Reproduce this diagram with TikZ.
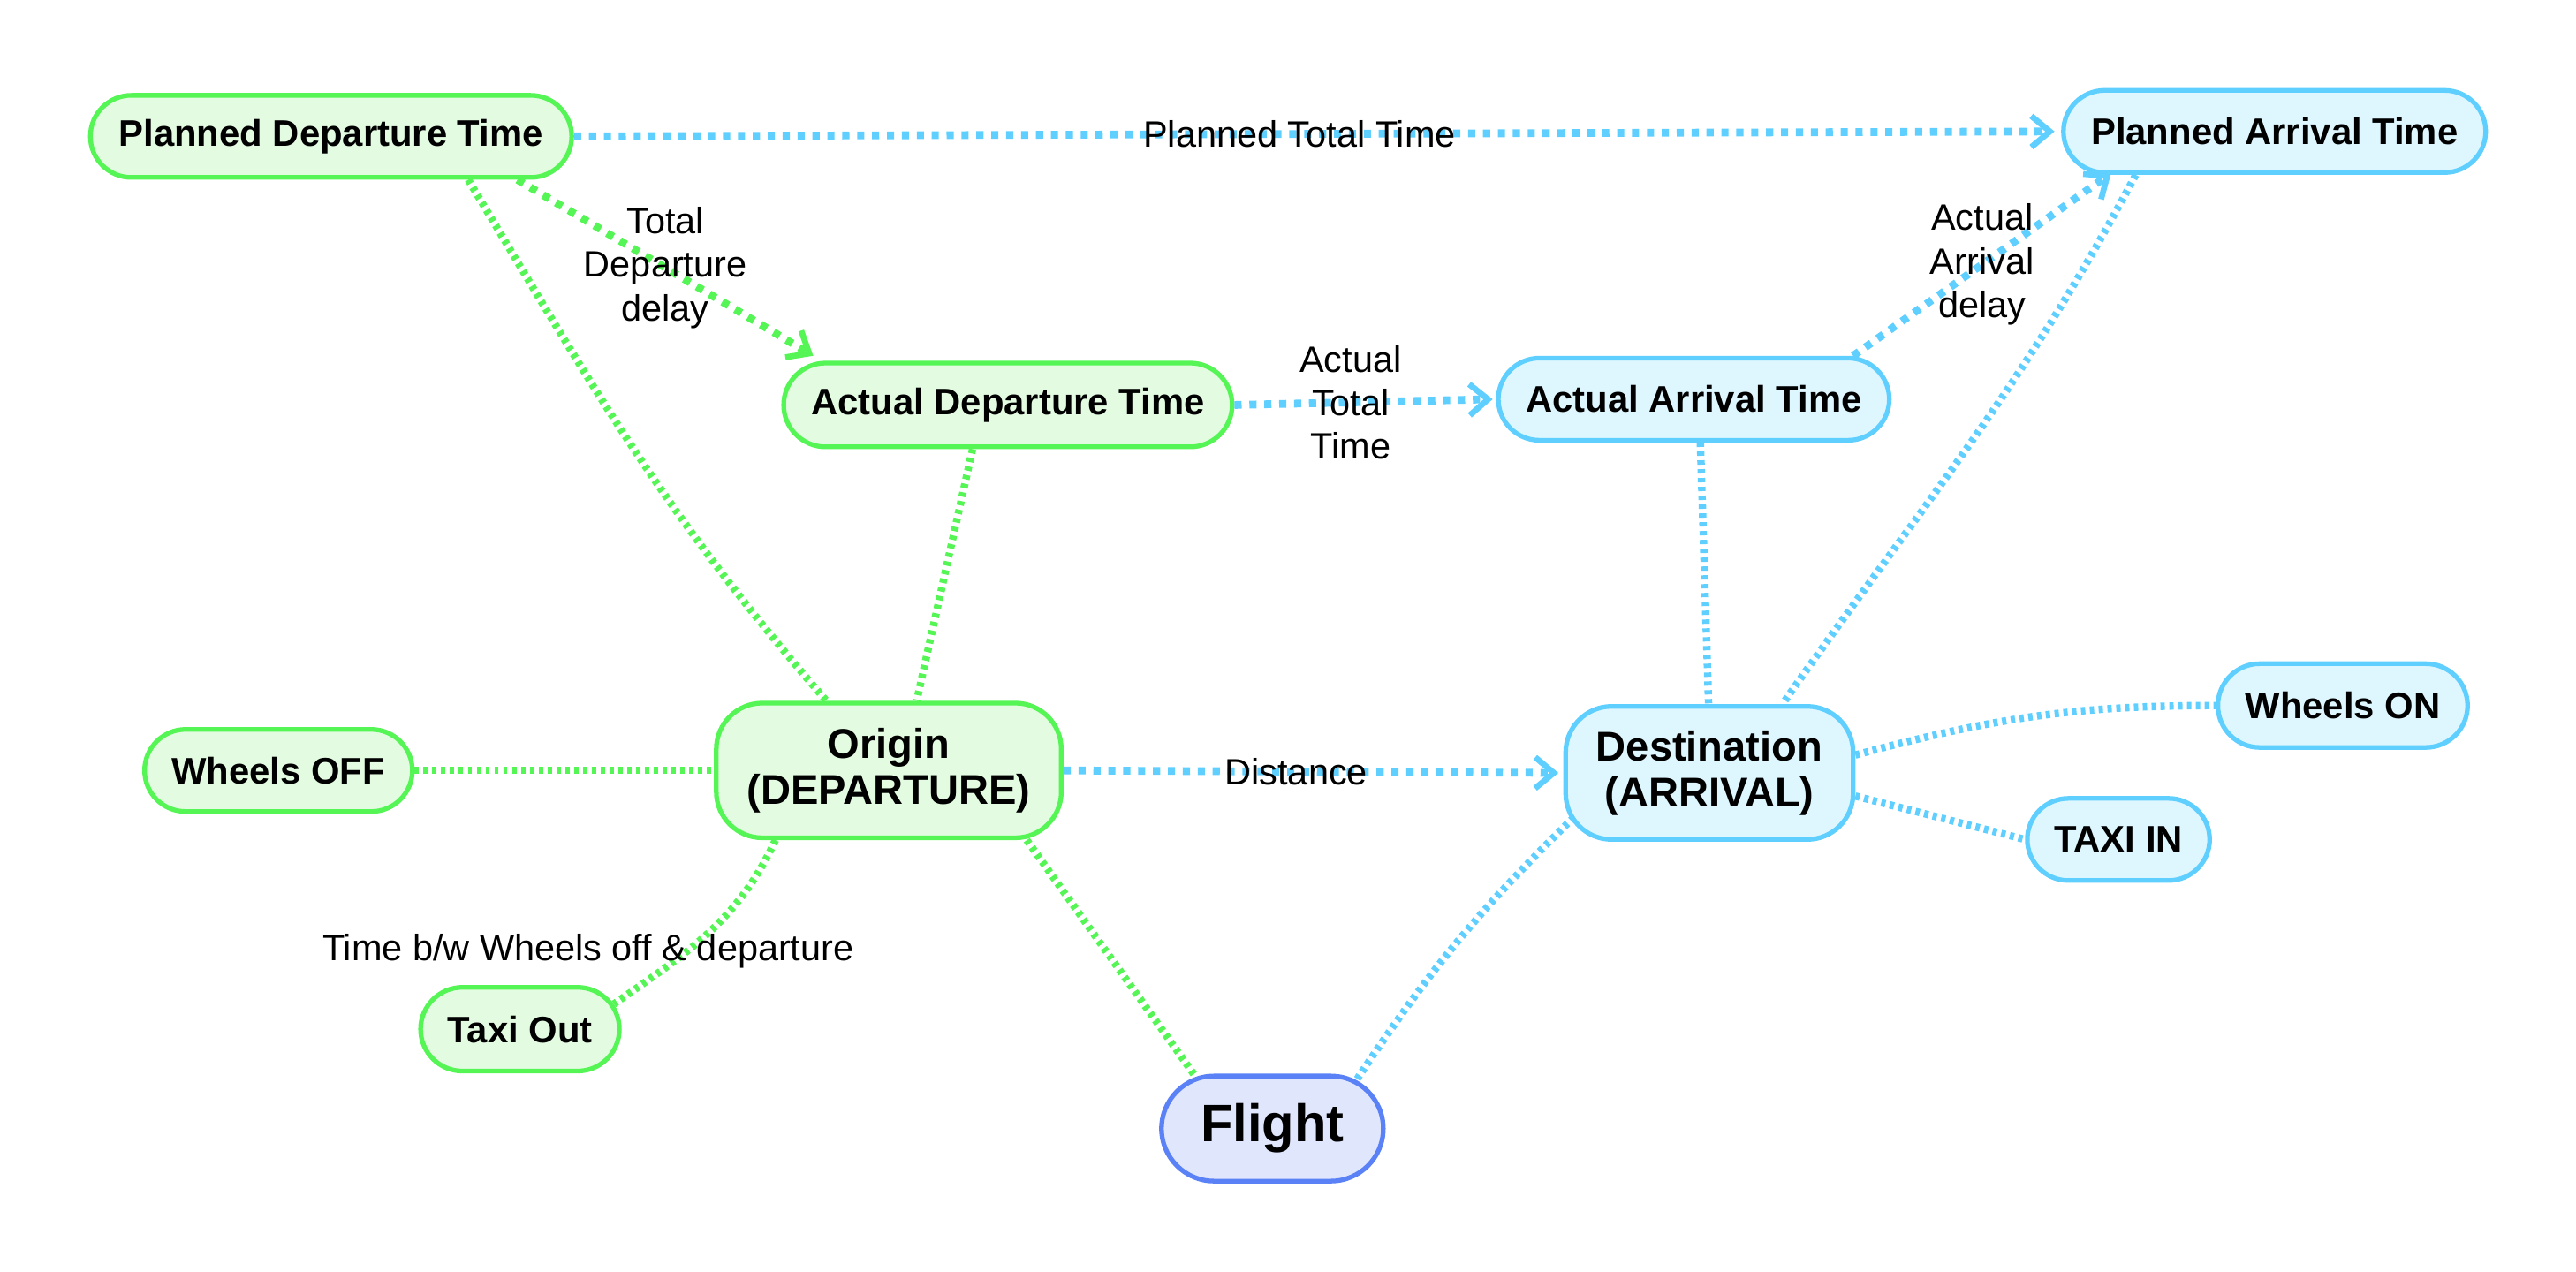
\documentclass[tikz,border=0pt]{standalone}
\usepackage{fontspec}
\setmainfont{Liberation Sans}
\usetikzlibrary{arrows.meta,shapes.misc,calc}
\definecolor{gline}{RGB}{84,245,84}
\definecolor{gfill}{RGB}{227,251,224}
\definecolor{bline}{RGB}{95,207,255}
\definecolor{bfill}{RGB}{222,246,254}
\definecolor{fline}{RGB}{90,130,246}
\definecolor{ffill}{RGB}{224,230,252}
\def\pxu{0.018597cm}
\begin{document}
\begin{tikzpicture}[x=0.018597cm,y=-0.018597cm,
  pill/.style={rounded rectangle, draw, line width=1.5pt, inner sep=0pt, font=\fontsize{11.9}{14}\selectfont\bfseries, align=center},
  gnode/.style={pill, draw=gline, fill=gfill},
  bnode/.style={pill, draw=bline, fill=bfill},
  hub/.style={rectangle, rounded corners=14.8pt, draw, line width=1.5pt, inner sep=0pt, font=\fontsize{13.4}{14.8}\selectfont\bfseries, align=center},
  conn/.style={line width=2.4pt, dash pattern=on 1.4pt off 1.45pt},
  gconn/.style={conn, draw=gline},
  bconn/.style={conn, draw=bline},
  arr/.style={line width=2.5pt, dash pattern=on 2.3pt off 2.5pt, -{Straight Barb[length=6pt,width=10pt,line width=1.9pt]}},
  lbl/.style={font=\fontsize{11.8}{14}\selectfont, align=center, inner sep=0pt, text=black}
]
\useasboundingbox (0,0) rectangle (1568,774);

% nodes
\node[gnode, minimum width=293*\pxu, minimum height=50*\pxu] (pdt) at (201.5,83) {Planned Departure Time};
\node[bnode, minimum width=257*\pxu, minimum height=50*\pxu] (pat) at (1384.5,80) {Planned Arrival Time};
\node[gnode, minimum width=273*\pxu, minimum height=51*\pxu] (adt) at (613.5,246.5) {Actual Departure Time};
\node[bnode, minimum width=238*\pxu, minimum height=50*\pxu] (aat) at (1031,243) {Actual Arrival Time};
\node[hub, draw=gline, fill=gfill, minimum width=210*\pxu, minimum height=82*\pxu] (origin) at (541,469) {Origin\\(DEPARTURE)};
\node[hub, draw=bline, fill=bfill, minimum width=175*\pxu, minimum height=81*\pxu] (dest) at (1040.5,470.5) {Destination\\(ARRIVAL)};
\node[gnode, minimum width=163*\pxu, minimum height=50*\pxu] (woff) at (169.5,469) {Wheels OFF};
\node[bnode, minimum width=152*\pxu, minimum height=51*\pxu] (won) at (1426,429.5) {Wheels ON};
\node[bnode, minimum width=111*\pxu, minimum height=50*\pxu] (taxiin) at (1289.5,511) {TAXI IN};
\node[gnode, minimum width=121*\pxu, minimum height=51*\pxu] (taxiout) at (316.5,626.5) {Taxi Out};
\node[pill, draw=fline, fill=ffill, font=\fontsize{17}{20}\selectfont\bfseries, minimum width=135*\pxu, minimum height=64*\pxu] (flight) at (774.5,687) {Flight};

% undirected links
\draw[gconn] ($(pdt.south)+(83.5,0)$) to[out=-59,in=131] ($(origin.north)+(-38,0)$);
\draw[gconn] ($(adt.south)+(-21.5,0)$) -- ($(origin.north)+(17,0)$);
\draw[bconn] ($(aat.south)+(4,0)$) -- ($(dest.north)+(-0.5,0)$);
\draw[bconn] ($(pat.south)+(-84.5,0)$) to[out=-118,in=55] ($(dest.north)+(44.5,0)$);
\draw[gconn] (woff.east) -- (origin.west);
\draw[gconn] ($(origin.south)+(-69,0)$) to[out=-115,in=35] (taxiout.15);
\draw[gconn] ($(origin.south)+(84,0)$) -- (flight.146);
\draw[bconn] ($(dest.center)+(-82.5,27)$) to[bend right=6] (flight.30);
\draw[bconn] (dest.7) to[out=15,in=180] (won.west);
\draw[bconn] (dest.-9) -- (taxiin.west);

% directed links
\draw[bconn,arr] (pdt.east) -- node[lbl, pos=0.49] {Planned Total Time} ($(pat.west)+(-4,0)$);
\draw[gconn,arr] ($(pdt.south)+(113.5,0)$) -- node[lbl] {Total\\Departure\\delay} ($(adt.north)+(-118.5,-3)$);
\draw[bconn,arr] (adt.east) -- node[lbl, pos=0.45] {Actual\\Total\\Time} ($(aat.west)+(-2,0)$);
\draw[bconn,arr] ($(aat.north)+(97,0)$) -- node[lbl] {Actual\\Arrival\\delay} ($(pat.south)+(-99.5,-1)$);
\draw[bconn,arr] (origin.east) -- node[lbl, pos=0.47] {Distance} ($(dest.west)+(-3,0)$);

% free label
\node[lbl] (twlabel) at (358,579) {Time b/w Wheels off \& departure};
\end{tikzpicture}
\end{document}
